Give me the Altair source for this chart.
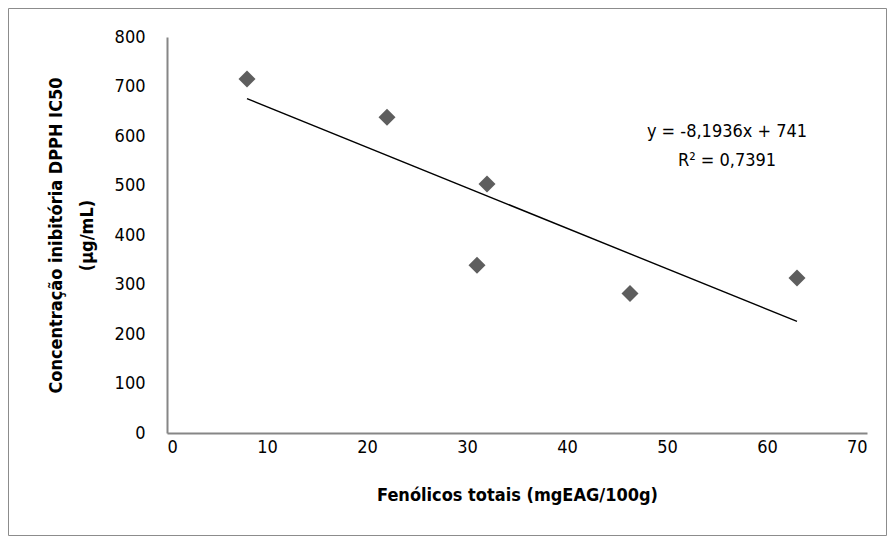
import altair as alt
import pandas as pd

fenolicos = [8, 22, 31, 32, 46.3, 63]
ic50 = [715, 638, 339, 503, 282, 313]

x_ticks = [0, 10, 20, 30, 40, 50, 60, 70]
y_ticks = [0, 100, 200, 300, 400, 500, 600, 700, 800]

eq_text = ["y = -8,1936x + 741", "R² = 0,7391"]
eq_x = [56.0, 56.0]
eq_y = [609, 549]

FONT = "Liberation Sans Narrow, Arial Narrow, DejaVu Sans Condensed, sans-serif"

df = pd.DataFrame({"x": fenolicos, "y": ic50})
eq_df = pd.DataFrame({"t": eq_text, "x": eq_x, "y": eq_y})

xs = alt.Scale(domain=[0, 70], nice=False)
ys = alt.Scale(domain=[0, 800], nice=False)

points = alt.Chart(df).mark_point(
    shape="diamond", filled=True, color="#5e5e5e", size=290, opacity=1
).encode(
    x=alt.X("x:Q", scale=xs, axis=alt.Axis(
        values=x_ticks, title="Fenólicos totais (mgEAG/100g)", grid=False,
        ticks=False, domainColor="#868686", domainWidth=2,
        labelFont=FONT, labelFontSize=18, labelColor="#000000", labelPadding=5,
        titleFont=FONT, titleFontSize=18, titleFontWeight="bold", titleColor="#000000",
        titlePadding=30)),
    y=alt.Y("y:Q", scale=ys, axis=alt.Axis(
        values=y_ticks, title=["Concentração inibitória DPPH IC50", "(µg/mL)"],
        grid=False, ticks=False, domainColor="#868686", domainWidth=2,
        labelFont=FONT, labelFontSize=18, labelColor="#000000", labelPadding=22,
        titleFont=FONT, titleFontSize=18, titleFontWeight="bold", titleColor="#000000",
        titleLineHeight=31, titlePadding=18)),
)

trend = alt.Chart(df).transform_regression("x", "y", method="linear").mark_line(
    color="#000000", strokeWidth=1.4
).encode(x=alt.X("x:Q", scale=xs), y=alt.Y("y:Q", scale=ys))

eq = alt.Chart(eq_df).mark_text(
    font=FONT, fontSize=18, color="#000000", align="center", baseline="middle"
).encode(x=alt.X("x:Q", scale=xs), y=alt.Y("y:Q", scale=ys), text="t:N")

border = alt.Chart(pd.DataFrame({"a": [0]})).mark_rect(
    fill=None, stroke="#8c8c8c", strokeWidth=1, clip=False
).encode(x=alt.value(-158.5), x2=alt.value(719.5), y=alt.value(-28.5), y2=alt.value(498.5))

chart = alt.layer(border, trend, points, eq).properties(
    width=700, height=396,
    autosize=alt.AutoSizeParams(type="none"),
    padding={"left": 159, "top": 29, "right": 20, "bottom": 103},
).configure(background="white").configure_view(stroke=None, strokeWidth=0)

chart.save("out.html", embed_options={"renderer": "svg", "actions": False})
